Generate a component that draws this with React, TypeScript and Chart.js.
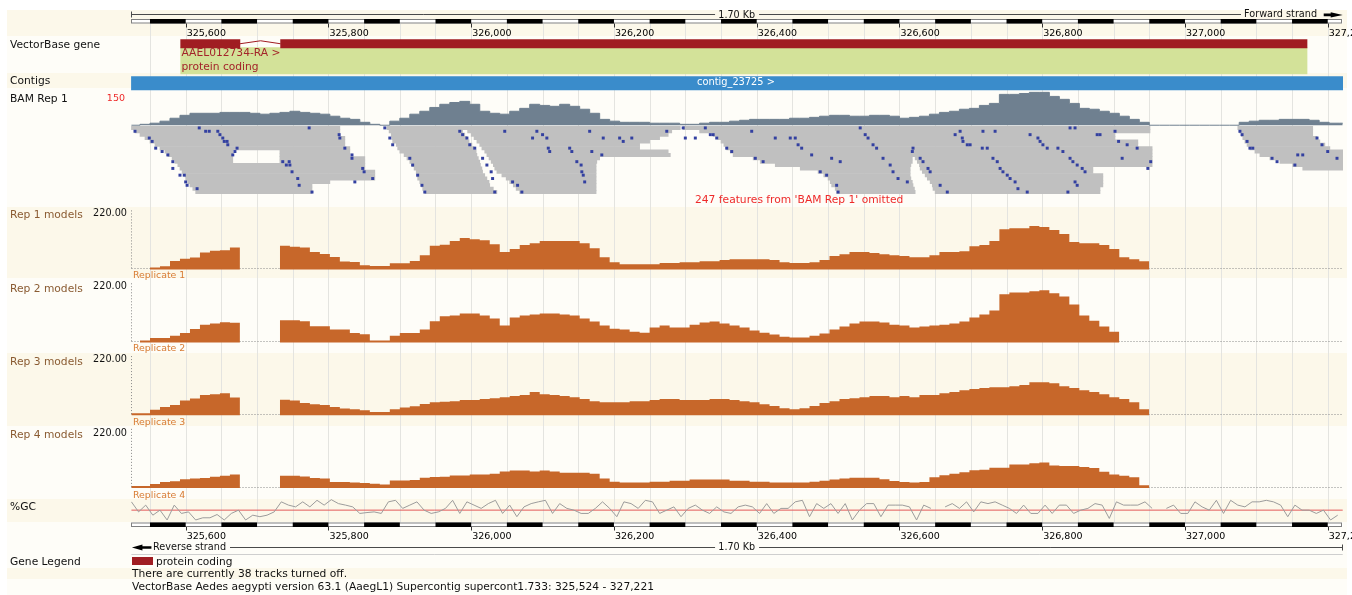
import React, { useEffect, useRef } from 'react';
import { Chart, registerables } from 'chart.js';

Chart.register(...registerables);

// ================= DATA =================
const regionStart = 325524;
const regionEnd = 327221;
const rulerTicks = [325600, 325800, 326000, 326200, 326400, 326600, 326800, 327000, 327200];
const rulerBlock = 50;
const gridStep = 50;

const geneName = 'AAEL012734-RA >';
const geneBiotype = 'protein coding';
const geneSpan = [325593, 327171];
const geneExons = [[325593, 325676], [325733, 327171]];
const intronHat = [[325676, 0], [325705, 0.3], [325733, 0]];
const contigName = 'contig_23725 >';
const contigSpan = [325524, 327221];

const N = null;
// coverage sampling positions (bp)
const covPos = [
  325524,
  325536, 325550, 325564, 325578, 325592, 325606, 325620, 325634, 325648, 325662,
  325676, 325690, 325704, 325718, 325732, 325746, 325760, 325774, 325788, 325802,
  325816, 325830, 325844, 325858, 325872, 325886, 325900, 325914, 325928, 325942,
  325956, 325970, 325984, 325998, 326012, 326026, 326040, 326054, 326068, 326082,
  326096, 326110, 326124, 326138, 326152, 326166, 326180, 326194, 326208, 326222,
  326236, 326250, 326264, 326278, 326292, 326306, 326320, 326334, 326348, 326362,
  326376, 326390, 326404, 326418, 326432, 326446, 326460, 326474, 326488, 326502,
  326516, 326530, 326544, 326558, 326572, 326586, 326600, 326614, 326628, 326642,
  326656, 326670, 326684, 326698, 326712, 326726, 326740, 326754, 326768, 326782,
  326796, 326810, 326824, 326838, 326852, 326866, 326880, 326894, 326908, 326922,
  326936, 326950, 326964, 326978, 326992, 327006, 327020, 327034, 327048, 327062,
  327076, 327090, 327104, 327118, 327132, 327146, 327160, 327174, 327188, 327202,
  327216,
  327221,
];

const bamCoverage = [
  0,
  4, 9, 18, 31, 44, 53, 53, 53, 57, 57,
  57, 53, 49, 53, 57, 62, 57, 53, 49, 40,
  31, 26, 13, 4, 0, 18, 31, 49, 62, 79,
  93, 101, 106, 93, 62, 53, 49, 62, 75, 93,
  88, 84, 93, 84, 71, 53, 26, 18, 13, 13,
  13, 9, 9, 9, 4, 4, 9, 13, 13, 18,
  22, 26, 26, 26, 26, 31, 31, 35, 40, 44,
  44, 40, 40, 44, 44, 40, 31, 35, 40, 49,
  57, 62, 71, 75, 88, 97, 137, 137, 141, 146,
  146, 128, 115, 97, 75, 71, 62, 53, 40, 26,
  13, 0, 0, 0, 0, 0, 0, 0, 0, 0,
  13, 18, 22, 22, 26, 26, 26, 22, 13, 9,
  9,
  9,
];

const rep1 = [
  0,
  0, 7, 12, 32, 40, 45, 63, 70, 72, 82,
  82, N, N, N, 88, 85, 82, 65, 58, 47,
  30, 28, 16, 13, 13, 23, 23, 32, 53, 88,
  92, 106, 117, 113, 109, 94, 65, 76, 91, 98,
  106, 106, 106, 106, 98, 79, 46, 27, 20, 20,
  20, 20, 24, 24, 27, 27, 31, 31, 35, 38,
  38, 38, 38, 35, 27, 24, 24, 27, 35, 50,
  57, 65, 65, 61, 57, 53, 50, 46, 46, 53,
  65, 65, 68, 87, 91, 106, 150, 154, 154, 162,
  158, 147, 132, 102, 98, 98, 91, 76, 46, 38,
  31, 31, N, N, N, N, N, N, N, N,
  N, N, N, N, N, N, N, N, N, N,
  N,
  N,
];

const rep2 = [
  0,
  7, 16, 16, 25, 35, 50, 66, 70, 75, 73,
  73, N, N, N, 82, 82, 79, 60, 60, 48,
  48, 35, 30, 7, 7, 25, 35, 35, 48, 79,
  97, 100, 108, 108, 100, 89, 63, 93, 100, 104,
  108, 108, 104, 100, 89, 78, 63, 51, 48, 40,
  36, 55, 63, 55, 55, 66, 74, 78, 70, 63,
  55, 44, 36, 29, 21, 18, 18, 25, 33, 48,
  59, 70, 78, 78, 74, 66, 63, 55, 59, 63,
  66, 70, 78, 93, 104, 119, 179, 186, 186, 190,
  194, 183, 171, 141, 100, 81, 59, 40, 40, N,
  N, N, N, N, N, N, N, N, N, N,
  N, N, N, N, N, N, N, N, N, N,
  N,
  N,
];

const rep3 = [
  7,
  7, 20, 30, 38, 55, 62, 75, 78, 82, 66,
  66, N, N, N, 57, 55, 45, 41, 38, 30,
  25, 22, 18, 12, 12, 22, 29, 33, 42, 48,
  50, 52, 56, 56, 60, 63, 67, 71, 75, 86,
  78, 75, 71, 67, 60, 52, 48, 48, 48, 52,
  52, 56, 60, 60, 56, 56, 56, 60, 60, 56,
  52, 48, 41, 34, 26, 22, 26, 34, 45, 52,
  60, 63, 67, 71, 71, 67, 71, 67, 75, 75,
  82, 86, 93, 97, 101, 104, 104, 108, 112, 123,
  123, 119, 108, 101, 93, 86, 78, 67, 60, 48,
  22, 22, N, N, N, N, N, N, N, N,
  N, N, N, N, N, N, N, N, N, N,
  N,
  N,
];

const rep4 = [
  7,
  7, 15, 22, 25, 32, 35, 37, 42, 45, 50,
  50, N, N, N, 45, 45, 43, 37, 35, 22,
  22, 20, 18, 16, 13, 28, 28, 30, 38, 41,
  42, 46, 46, 50, 50, 53, 61, 65, 65, 61,
  65, 61, 57, 57, 57, 53, 35, 23, 20, 20,
  20, 23, 23, 27, 27, 31, 31, 31, 31, 27,
  27, 23, 23, 20, 20, 20, 20, 23, 27, 31,
  35, 38, 38, 38, 32, 26, 22, 20, 22, 40,
  47, 53, 58, 66, 68, 75, 75, 87, 87, 92,
  95, 84, 82, 82, 78, 74, 60, 50, 45, 40,
  10, 10, N, N, N, N, N, N, N, N,
  N, N, N, N, N, N, N, N, N, N,
  N,
  N,
];

const repMax = 220;
const repMaxLabel = '220.00';
const repTrackNames = ['Rep 1 models', 'Rep 2 models', 'Rep 3 models', 'Rep 4 models'];
const repSubNames = ['Replicate 1', 'Replicate 2', 'Replicate 3', 'Replicate 4'];
const bamMaxLabel = '150';
const bamMax = 150;

// reads: [row, start, end]
const readRows = [
  [0, 325524, 325816], [1, 325529, 325816], [2, 325536, 325816], [3, 325543, 325823],
  [4, 325550, 325823], [5, 325557, 325823], [6, 325564, 325830],
  [7, 325571, 325666], [7, 325732, 325830], [8, 325575, 325666], [8, 325732, 325830],
  [9, 325581, 325666], [9, 325732, 325851], [10, 325585, 325666], [10, 325732, 325851],
  [11, 325589, 325851], [12, 325592, 325851], [13, 325595, 325865], [14, 325599, 325865],
  [15, 325600, 325865], [16, 325603, 325802], [17, 325606, 325777], [18, 325610, 325777],
  [19, 325614, 325777],
  [0, 325882, 326293],
  [1, 325885, 325988], [1, 325995, 326281], [2, 325888, 325991], [2, 326000, 326276],
  [3, 325889, 325994], [3, 326004, 326264], [4, 325890, 325997], [4, 326008, 326250],
  [5, 325895, 326001], [5, 326012, 326236], [6, 325897, 326004], [6, 326015, 326236],
  [7, 325900, 326007], [7, 326019, 326276], [8, 325906, 326008], [8, 326022, 326279],
  [9, 325910, 326010], [9, 326025, 326180], [10, 325914, 326012], [10, 326028, 326176],
  [11, 325917, 326013], [11, 326031, 326175], [12, 325920, 326015], [12, 326033, 326175],
  [13, 325923, 326016], [13, 326036, 326175], [14, 325924, 326019], [14, 326043, 326175],
  [15, 325925, 326022], [15, 326049, 326175], [16, 325928, 326025], [16, 326054, 326175],
  [17, 325930, 326026], [17, 326059, 326175], [18, 325932, 326031], [18, 326063, 326175],
  [19, 325935, 326036], [19, 326068, 326175],
  [0, 326297, 326951], [1, 326320, 326951], [2, 326339, 326902], [3, 326346, 326902],
  [4, 326350, 326934], [5, 326354, 326934], [6, 326358, 326954], [7, 326363, 326954],
  [8, 326367, 326954],
  [9, 326395, 326618], [9, 326622, 326954], [10, 326405, 326618], [10, 326625, 326954],
  [11, 326426, 326616], [11, 326628, 326954], [12, 326461, 326615], [12, 326629, 326871],
  [13, 326486, 326615], [13, 326632, 326871], [14, 326494, 326615], [14, 326636, 326885],
  [15, 326500, 326616], [15, 326639, 326885], [16, 326503, 326618], [16, 326643, 326885],
  [17, 326505, 326619], [17, 326646, 326885], [18, 326510, 326621], [18, 326647, 326881],
  [19, 326512, 326622], [19, 326650, 326881],
  [0, 327074, 327179], [1, 327076, 327179], [2, 327079, 327179], [3, 327081, 327185],
  [4, 327084, 327189], [5, 327087, 327196], [6, 327091, 327203], [7, 327098, 327221],
  [8, 327105, 327221], [9, 327119, 327221], [10, 327133, 327221], [11, 327151, 327221],
  [12, 327165, 327221],
];

// mismatches: [bp, row]
const mismatches = [
  [325529, 1], [325549, 3], [325553, 4], [325558, 6], [325567, 7], [325575, 8], [325582, 10],
  [325582, 12], [325592, 14], [325598, 14], [325600, 16], [325602, 17], [325616, 18], [325619, 0],
  [325628, 1], [325633, 1], [325645, 1], [325648, 2], [325652, 3], [325654, 4], [325658, 4],
  [325659, 5], [325672, 6], [325666, 8], [325669, 7], [325736, 10], [325741, 11], [325746, 11],
  [325745, 10], [325749, 13], [325757, 15], [325759, 17], [325777, 19], [325773, 0], [325815, 2],
  [325816, 3], [325823, 6], [325833, 8], [325833, 9], [325848, 12], [325850, 13], [325862, 15],
  [325837, 16],
  [325879, 0], [325886, 3], [325890, 5], [325914, 9], [325918, 11], [325925, 14], [325931, 17],
  [325935, 19], [325984, 1], [325988, 2], [325994, 3], [325998, 5], [326005, 6], [326016, 9],
  [326022, 11], [326028, 13], [326030, 15], [326033, 19], [326047, 1], [326058, 16], [326065, 17],
  [326071, 19], [326092, 1], [326100, 2], [326086, 3], [326106, 3], [326108, 6], [326110, 7],
  [326138, 6], [326141, 7], [326148, 10], [326154, 11], [326155, 13], [326157, 14], [326159, 16],
  [326166, 1], [326169, 7], [326183, 8], [326185, 3], [326208, 3], [326213, 4], [326225, 3],
  [326274, 1],
  [326297, 0], [326300, 3], [326314, 3], [326328, 0], [326335, 2], [326339, 2], [326344, 3],
  [326358, 6], [326365, 7], [326393, 1], [326398, 9], [326409, 10], [326426, 3], [326447, 3],
  [326454, 3], [326458, 5], [326463, 6], [326477, 8], [326489, 13], [326498, 14], [326512, 17],
  [326514, 19], [326505, 9], [326517, 10], [326545, 0], [326552, 2], [326556, 3], [326563, 5],
  [326568, 6], [326577, 9], [326587, 11], [326591, 13], [326598, 15], [326611, 16], [326618, 7],
  [326619, 6], [326629, 9], [326633, 10], [326640, 12], [326643, 13], [326657, 17], [326667, 19],
  [326678, 2], [326688, 3], [326689, 4], [326695, 5], [326699, 5], [326716, 6], [326723, 6],
  [326731, 9], [326737, 10], [326741, 12], [326745, 13], [326751, 14], [326755, 15], [326762, 16],
  [326766, 18], [326779, 19], [326734, 1], [326717, 1], [326685, 1], [326783, 2], [326794, 3],
  [326797, 4], [326801, 5], [326807, 6], [326822, 6], [326829, 7], [326839, 9], [326843, 10],
  [326849, 11], [326856, 12], [326860, 13], [326846, 16], [326849, 17], [326836, 19], [326839, 0],
  [326846, 0], [326877, 2], [326881, 2], [326902, 1], [326907, 4], [326919, 5], [326933, 6],
  [326912, 9], [326952, 10], [326948, 12],
  [327077, 1], [327080, 2], [327087, 4], [327091, 6], [327095, 6], [327122, 9], [327129, 10],
  [327154, 11], [327158, 8], [327165, 8], [327185, 3], [327192, 5], [327200, 7], [327213, 9],
];

// %GC windows
const gcStart = 325524;
const gcStep = 10;
const gcValues = [
  85, 39, 70, 24, 47, 2, 70, 32, 39, 2, 12, 12, 27, 2, 32, 47, 2, 24, 17, 24,
  39, 85, 70, 62, 85, 62, 92, 70, 95, 77, 70, 62, 32, 36, 39, 32, 85, 92, 55, 70,
  85, 47, 32, 39,
  55, 92, 32, 85, 70, 55, 77, 92, 32, 70, 17, 62, 77, 85, 92, 32, 77, 55, 47, 32,
  32, 55, 85, 55, 17, 85, 77, 55, 92, 85, 32, 47, 62, 17, 55, 70, 47, 32, 62, 39,
  32, 62, 70, 62, 32, 77, 32, 55, 55, 85, 92, 17, 77, 55, 77, 32, 77, 2, 47, 77,
  77, 17, 70, 70,
  70, 62, 2, 70, 55, N, 62, 77, 55, 85, 39, 85, 77, 85, 70, 55, 32, 70, 32, 32,
  70, 32, 70, 70, 32, 47, 55, 77, 70, 9, 85, 70, 70, 70, 85, 55, N, 55, 70, 32,
  32, 85, 62, 47, 92, 32, 92, 70, 62, 85, 85, 92, 85, 70, 17, 70, 47, 47, 32, 47,
  2, 24,
];
const gcMean = 47;

// ================= LAYOUT / STYLE =================
const W = 1352;
const H = 595;
const PLOT_L = 131;
const PLOT_R = 1343;
const X_MIN = 325523.4;
const X_MAX = 327221.4;
const BAND_X0 = 7;
const BAND_X1 = 1347;
const CREAM_BANDS = [[10, 36], [73, 88], [207, 278], [353, 426], [499, 522], [568, 579]];
const REP_BASE = [269.3, 342.7, 416, 489.3];
const REP_H = 59.5;

const FONT = '"DejaVu Sans", sans-serif';
const CREAM = '#fcf8ea';
const LIGHT = '#fefdf8';
const GRID = '#e4e4e0';
const GENE_RED = '#a01d22';
const GENE_TEXT = '#a3242a';
const GENE_GREEN = '#d3e299';
const CONTIG_BLUE = '#3a8ccb';
const COV = '#6f8090';
const READ = '#c0c0c0';
const MISMATCH = '#3340a0';
const REP_ORANGE = '#c7672a';
const REP_SUB = '#d87c34';
const REP_LABEL = '#8a5b32';
const RED_TXT = '#ee2a2a';
const GC_GREY = '#9c9c9c';
const GC_RED = '#e35a5a';
const TXT = '#111111';

function band(basePx: number, topPx: number, vTop: number) {
  const k = vTop / (basePx - topPx);
  return { min: (basePx - H) * k, max: basePx * k };
}
function bandRev(p0: number, unit: number) {
  const min = -p0 / unit;
  return { min, max: min + H / unit, reverse: true };
}
function hidden(extra: any) {
  return { type: 'linear', display: false, offset: false, bounds: 'data', grid: { display: false }, ...extra };
}

function drawRuler(ctx: CanvasRenderingContext2D, xs: any, barTop: number, barH: number, tickDir: number, tickY: number, labelBase: number) {
  const L = xs.getPixelForValue(regionStart);
  const R = xs.getPixelForValue(regionEnd);
  ctx.fillStyle = '#ffffff';
  ctx.fillRect(L, barTop, R - L, barH);
  ctx.strokeStyle = '#808080';
  ctx.lineWidth = 1;
  ctx.strokeRect(Math.round(L) + 0.5, barTop + 0.5, Math.round(R - L) - 1, barH - 1);
  ctx.fillStyle = '#000000';
  for (let b = Math.ceil(regionStart / rulerBlock) * rulerBlock; b < regionEnd; b += 2 * rulerBlock) {
    const a = xs.getPixelForValue(b);
    const e = xs.getPixelForValue(Math.min(b + rulerBlock, regionEnd));
    ctx.fillRect(a, barTop, e - a, barH);
  }
  ctx.strokeStyle = '#333333';
  ctx.beginPath();
  for (const t of rulerTicks) {
    const x = Math.round(xs.getPixelForValue(t)) + 0.5;
    ctx.moveTo(x, tickY);
    ctx.lineTo(x, tickY + tickDir);
  }
  ctx.stroke();
  ctx.fillStyle = '#000000';
  ctx.font = '9.5px ' + FONT;
  ctx.textAlign = 'left';
  ctx.textBaseline = 'alphabetic';
  for (const t of rulerTicks) {
    const x = xs.getPixelForValue(t);
    ctx.fillText(t.toLocaleString('en-US'), x + 1, labelBase);
  }
}

const trackPlugin = {
  id: 'genomeTracks',
  beforeDraw(chart: any) {
    const ctx = chart.ctx;
    ctx.save();
    ctx.fillStyle = '#ffffff';
    ctx.fillRect(0, 0, W, H);
    ctx.fillStyle = LIGHT;
    ctx.fillRect(BAND_X0, 10, BAND_X1 - BAND_X0, H - 10);
    ctx.fillStyle = CREAM;
    for (const [a, b] of CREAM_BANDS) ctx.fillRect(BAND_X0, a, BAND_X1 - BAND_X0, b - a);
    ctx.restore();
  },
  beforeDatasetsDraw(chart: any) {
    const { ctx, scales } = chart;
    const xs = scales.x;
    ctx.save();
    ctx.strokeStyle = GRID;
    ctx.lineWidth = 1;
    ctx.beginPath();
    for (let b = Math.ceil(regionStart / gridStep) * gridStep; b <= regionEnd; b += gridStep) {
      const x = Math.round(xs.getPixelForValue(b)) + 0.5;
      ctx.moveTo(x, 24);
      ctx.lineTo(x, 523);
    }
    ctx.stroke();
    ctx.strokeStyle = '#8a8a8a';
    ctx.setLineDash([1, 2]);
    const xL = Math.round(xs.getPixelForValue(regionStart)) + 0.5;
    const xR = xs.getPixelForValue(regionEnd);
    for (let i = 0; i < 4; i++) {
      const ys = scales['yRep' + (i + 1)];
      const y0 = Math.round(ys.getPixelForValue(0)) - 0.5;
      const yT = ys.getPixelForValue(repMax);
      ctx.beginPath();
      ctx.moveTo(xL, yT);
      ctx.lineTo(xL, y0);
      ctx.moveTo(xL, y0);
      ctx.lineTo(xR, y0);
      ctx.stroke();
    }
    ctx.restore();
  },
  afterDatasetsDraw(chart: any) {
    const { ctx, scales } = chart;
    const xs = scales.x;
    const L = xs.getPixelForValue(regionStart);
    const R = xs.getPixelForValue(regionEnd);
    const mid = (L + R) / 2;
    ctx.save();
    drawRuler(ctx, xs, 19, 4.5, 4, 23.5, 35.5);
    drawRuler(ctx, xs, 522.5, 4.5, 3.5, 527, 539);
    ctx.strokeStyle = '#4a4a4a';
    ctx.lineWidth = 1;
    ctx.beginPath();
    ctx.moveTo(L, 14.5); ctx.lineTo(mid - 22, 14.5);
    ctx.moveTo(mid + 22, 14.5); ctx.lineTo(1241, 14.5);
    ctx.moveTo(Math.round(L) + 0.5, 11.5); ctx.lineTo(Math.round(L) + 0.5, 17.5);
    ctx.moveTo(230, 547.5); ctx.lineTo(mid - 22, 547.5);
    ctx.moveTo(mid + 22, 547.5); ctx.lineTo(R, 547.5);
    ctx.moveTo(Math.round(R) - 0.5, 544.5); ctx.lineTo(Math.round(R) - 0.5, 550.5);
    ctx.stroke();
    ctx.fillStyle = '#000000';
    ctx.beginPath();
    ctx.moveTo(R - 19, 13.6); ctx.lineTo(R - 12, 13.6); ctx.lineTo(R - 12, 12.2);
    ctx.lineTo(R, 15); ctx.lineTo(R - 12, 17.6); ctx.lineTo(R - 12, 16.2);
    ctx.lineTo(R - 19, 16.2); ctx.closePath(); ctx.fill();
    ctx.beginPath();
    ctx.moveTo(L + 20, 546.3); ctx.lineTo(L + 11, 546.3); ctx.lineTo(L + 11, 544.6);
    ctx.lineTo(L + 0.5, 547.5); ctx.lineTo(L + 11, 550.4); ctx.lineTo(L + 11, 548.7);
    ctx.lineTo(L + 20, 548.7); ctx.closePath(); ctx.fill();
    ctx.strokeStyle = '#cfcfcf';
    ctx.beginPath();
    ctx.moveTo(L, 554.5); ctx.lineTo(R, 554.5);
    ctx.stroke();
    ctx.restore();
  },
};

function buildConfig(): any {
  const pts = (vals: (number | null)[]) => covPos.map((x, i) => ({ x, y: vals[i] }));
  const reps = [rep1, rep2, rep3, rep4];
  const scales: any = {
    x: hidden({ axis: 'x', min: X_MIN, max: X_MAX }),
    yExon: hidden({ axis: 'y', ...band(41.95, 31.95, 1) }),
    yGeneBox: hidden({ axis: 'y', ...band(59.15, 49.15, 1) }),
    yContig: hidden({ axis: 'y', ...band(81.7, 71.7, 1) }),
    yCov: hidden({ axis: 'y', ...band(124, 90, bamMax) }),
    yReads: hidden({ axis: 'y', ...bandRev(126.7, 3.4) }),
    yGC: hidden({ axis: 'y', ...band(522, 500, 100) }),
  };
  REP_BASE.forEach((b, i) => {
    scales['yRep' + (i + 1)] = hidden({ axis: 'y', ...band(b, b - REP_H, repMax) });
  });

  const datasets: any[] = [
    {
      type: 'scatter', label: 'mismatches', xAxisID: 'x', yAxisID: 'yReads',
      data: mismatches.map(([x, r]) => ({ x, y: r })),
      pointStyle: 'rect', pointRadius: 2.1, pointHoverRadius: 0, pointBorderWidth: 0,
      backgroundColor: MISMATCH, borderColor: MISMATCH, borderWidth: 0,
    },
    {
      type: 'bar', label: 'reads', indexAxis: 'y', xAxisID: 'x', yAxisID: 'yReads',
      data: readRows.map(([r, s, e]) => ({ x: [s, e], y: r })),
      backgroundColor: READ, borderWidth: 0, barThickness: 3.4,
    },
    {
      type: 'line', label: 'BAM coverage', xAxisID: 'x', yAxisID: 'yCov',
      data: pts(bamCoverage), stepped: true, fill: 'origin',
      backgroundColor: COV, borderColor: COV, borderWidth: 1, pointRadius: 0,
    },
    {
      type: 'line', label: 'intron', xAxisID: 'x', yAxisID: 'yExon',
      data: intronHat.map(([x, y]) => ({ x, y })),
      borderColor: GENE_RED, borderWidth: 1, pointRadius: 0, fill: false,
    },
    {
      type: 'bar', label: 'exons', indexAxis: 'y', xAxisID: 'x', yAxisID: 'yExon',
      data: geneExons.map(([s, e]) => ({ x: [s, e], y: 0 })),
      backgroundColor: GENE_RED, borderWidth: 0, barThickness: 8.5,
    },
    {
      type: 'bar', label: 'transcript', indexAxis: 'y', xAxisID: 'x', yAxisID: 'yGeneBox',
      data: [{ x: geneSpan, y: 0 }],
      backgroundColor: GENE_GREEN, borderWidth: 0, barThickness: 26.3,
    },
    {
      type: 'bar', label: 'contig', indexAxis: 'y', xAxisID: 'x', yAxisID: 'yContig',
      data: [{ x: contigSpan, y: 0 }],
      backgroundColor: CONTIG_BLUE, borderWidth: 0, barThickness: 13.3,
    },
    ...reps.map((vals, i) => ({
      type: 'line', label: repSubNames[i], xAxisID: 'x', yAxisID: 'yRep' + (i + 1),
      data: pts(vals), stepped: true, fill: 'origin', spanGaps: false,
      backgroundColor: REP_ORANGE, borderColor: 'rgba(0,0,0,0)', borderWidth: 0, pointRadius: 0,
    })),
    {
      type: 'line', label: '%GC', xAxisID: 'x', yAxisID: 'yGC',
      data: gcValues.map((v, i) => ({ x: gcStart + i * gcStep, y: v })),
      borderColor: GC_GREY, borderWidth: 1, pointRadius: 0, spanGaps: false, fill: false,
    },
    {
      type: 'line', label: '%GC mean', xAxisID: 'x', yAxisID: 'yGC',
      data: [{ x: regionStart, y: gcMean }, { x: regionEnd, y: gcMean }],
      borderColor: GC_RED, borderWidth: 1, pointRadius: 0, fill: false,
    },
  ];

  return {
    type: 'line',
    data: { datasets },
    options: {
      responsive: false,
      animation: false,
      devicePixelRatio: 1,
      events: [],
      layout: { padding: { left: PLOT_L, right: W - PLOT_R, top: 0, bottom: 0 } },
      plugins: { legend: { display: false }, tooltip: { enabled: false }, title: { display: false } },
      scales,
    },
    plugins: [trackPlugin],
  };
}

function T({ x, y, s, c = TXT, a = 'l', children }: any) {
  const style: any = {
    position: 'absolute', top: y - 0.846 * s, fontFamily: FONT, fontSize: s + 'px',
    lineHeight: s + 'px', color: c, whiteSpace: 'pre',
  };
  if (a === 'l') style.left = x;
  else if (a === 'r') style.right = W - x;
  else { style.left = x; style.transform = 'translateX(-50%)'; }
  return <div style={style}>{children}</div>;
}

export default function App() {
  const canvasRef = useRef<HTMLCanvasElement | null>(null);
  useEffect(() => {
    const canvas = canvasRef.current;
    if (!canvas) return;
    const chart = new Chart(canvas, buildConfig());
    return () => chart.destroy();
  }, []);

  return (
    <div style={{ position: 'absolute', left: 0, top: 0, width: W, height: H, overflow: 'hidden', background: '#fff' }}>
      <canvas ref={canvasRef} width={W} height={H} style={{ position: 'absolute', left: 0, top: 0, width: W, height: H }} />
      <T x={736.7} y={17.8} s={9.6} a="c">1.70 Kb</T>
      <T x={1244} y={17.6} s={9.7}>Forward strand</T>
      <T x={10} y={49.5} s={10.7}>VectorBase gene</T>
      <T x={181.5} y={57.3} s={10.7} c={GENE_TEXT}>{geneName}</T>
      <T x={181.5} y={70.8} s={10.7} c={GENE_TEXT}>{geneBiotype}</T>
      <T x={10} y={85} s={10.7}>Contigs</T>
      <T x={736} y={84.8} s={9.8} c="#ffffff" a="c">{contigName}</T>
      <T x={10} y={103} s={10.7}>BAM Rep 1</T>
      <T x={125} y={101} s={9.5} c={RED_TXT} a="r">{bamMaxLabel}</T>
      <T x={695} y={204.5} s={10.7} c={RED_TXT}>247 features from 'BAM Rep 1' omitted</T>
      {REP_BASE.map((b, i) => (
        <React.Fragment key={i}>
          <T x={10} y={b - 49.8} s={10.7} c={REP_LABEL}>{repTrackNames[i]}</T>
          <T x={127} y={b - 53.3} s={9.7} a="r">{repMaxLabel}</T>
          <T x={133} y={b + 8.6} s={9.4} c={REP_SUB}>{repSubNames[i]}</T>
        </React.Fragment>
      ))}
      <T x={10} y={511} s={10.7}>%GC</T>
      <T x={153} y={550.3} s={9.7}>Reverse strand</T>
      <T x={736.7} y={550.5} s={9.6} a="c">1.70 Kb</T>
      <T x={10} y={566} s={10.7}>Gene Legend</T>
      <div style={{ position: 'absolute', left: 132, top: 557, width: 21, height: 8, background: GENE_RED }} />
      <T x={156} y={564.5} s={10.6}>protein coding</T>
      <T x={132} y={578.3} s={10.7}>There are currently 38 tracks turned off.</T>
      <T x={132} y={591.5} s={10.7}>VectorBase Aedes aegypti version 63.1 (AaegL1) Supercontig supercont1.733: 325,524 - 327,221</T>
    </div>
  );
}
